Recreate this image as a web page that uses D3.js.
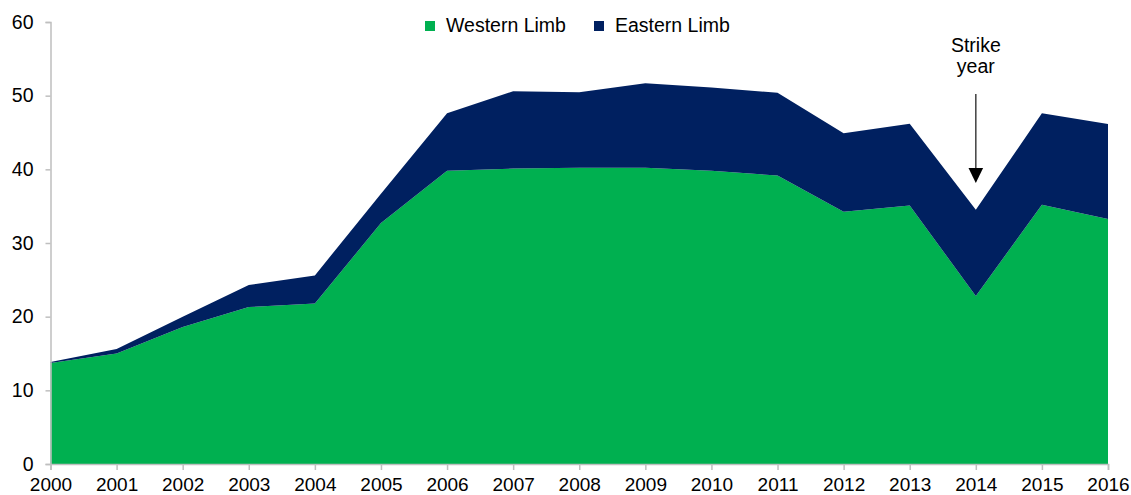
<!DOCTYPE html>
<html>
<head>
<meta charset="utf-8">
<script src="https://cdn.jsdelivr.net/npm/d3@7"></script>
<style>
  html, body { margin: 0; padding: 0; background: #ffffff; }
  svg { display: block; }
  text { font-family: "Liberation Sans", Arial, sans-serif; fill: #000; }
</style>
</head>
<body>
<svg id="chart" width="1131" height="495"></svg>
<script>
// Production by region, 2000–2016
const years = [2000, 2001, 2002, 2003, 2004, 2005, 2006, 2007, 2008, 2009, 2010, 2011, 2012, 2013, 2014, 2015, 2016];
const western = [13.7, 15.0, 18.6, 21.3, 21.8, 32.7, 39.8, 40.1, 40.2, 40.2, 39.8, 39.15, 34.25, 35.1, 22.8, 35.2, 33.25];
const totals  = [13.85, 15.6, 20.0, 24.3, 25.6, 36.7, 47.6, 50.6, 50.45, 51.7, 51.1, 50.4, 44.9, 46.2, 34.5, 47.6, 46.15];
const eastern = totals.map((t, i) => +(t - western[i]).toFixed(2));
const seriesNames = ["Western Limb", "Eastern Limb"];
const seriesColors = ["#00b050", "#002060"];
const yTicks = [0, 10, 20, 30, 40, 50, 60];
const annotationYear = 2014;
const annotationLines = ["Strike", "year"];

const svg = d3.select("#chart");
const plotLeft = 50.5, plotRight = 1108, plotTop = 22, plotBottom = 464;
const fontSize = "19.5px";

const x = d3.scaleLinear().domain([years[0], years[years.length - 1]]).range([plotLeft, plotRight]);
const y = d3.scaleLinear().domain([0, 60]).range([plotBottom, plotTop]);

const rows = years.map((yr, i) => ({ year: yr, west: western[i], east: eastern[i] }));
const stack = d3.stack().keys(["west", "east"]);
const layers = stack(rows);

const area = d3.area()
  .x(d => x(d.data.year))
  .y0(d => y(d[0]))
  .y1(d => y(d[1]));

svg.append("g").selectAll("path")
  .data(layers)
  .join("path")
  .attr("d", area)
  .attr("fill", (d, i) => seriesColors[i]);

// Axes
const axisColor = "#bfbfbf";
const yAxis = svg.append("g")
  .attr("transform", `translate(${plotLeft},0)`)
  .call(d3.axisLeft(y).tickValues(yTicks).tickSize(5).tickPadding(12).tickFormat(d3.format("d")));
const xAxis = svg.append("g")
  .attr("transform", `translate(0,${plotBottom})`)
  .call(d3.axisBottom(x).tickValues(years).tickSize(6).tickPadding(10).tickFormat(d3.format("d")));

[yAxis, xAxis].forEach(g => {
  g.select(".domain").attr("stroke", axisColor).attr("stroke-width", 1.5);
  g.selectAll(".tick line").attr("stroke", axisColor).attr("stroke-width", 1.5);
  g.selectAll(".tick text")
    .attr("font-family", "'Liberation Sans', Arial, sans-serif")
    .attr("font-size", fontSize)
    .attr("fill", "#000");
});
// Year labels sit on a fixed baseline just above the lower edge
xAxis.selectAll(".tick text")
  .attr("y", 26.5)
  .attr("dy", null)
  .attr("font-size", "19px");

// Legend
const legendItems = [
  { name: seriesNames[0], color: seriesColors[0], x: 425 },
  { name: seriesNames[1], color: seriesColors[1], x: 594 }
];
const legend = svg.append("g");
legend.selectAll("rect")
  .data(legendItems)
  .join("rect")
  .attr("x", d => d.x)
  .attr("y", 21)
  .attr("width", 10)
  .attr("height", 10)
  .attr("fill", d => d.color);
legend.selectAll("text")
  .data(legendItems)
  .join("text")
  .attr("x", d => d.x + 21)
  .attr("y", 31.5)
  .attr("font-size", fontSize)
  .text(d => d.name);

// Strike annotation with arrow
const ax = x(annotationYear);
const note = svg.append("g");
note.selectAll("text")
  .data(annotationLines)
  .join("text")
  .attr("x", ax)
  .attr("y", (d, i) => 52.3 + i * 21)
  .attr("text-anchor", "middle")
  .attr("font-size", fontSize)
  .text(d => d);
note.append("line")
  .attr("x1", ax).attr("x2", ax)
  .attr("y1", 94).attr("y2", 170)
  .attr("stroke", "#404040")
  .attr("stroke-width", 1.5);
note.append("path")
  .attr("d", `M${ax - 7.3},168 L${ax + 7.3},168 L${ax},183 Z`)
  .attr("fill", "#000");
</script>
</body>
</html>
